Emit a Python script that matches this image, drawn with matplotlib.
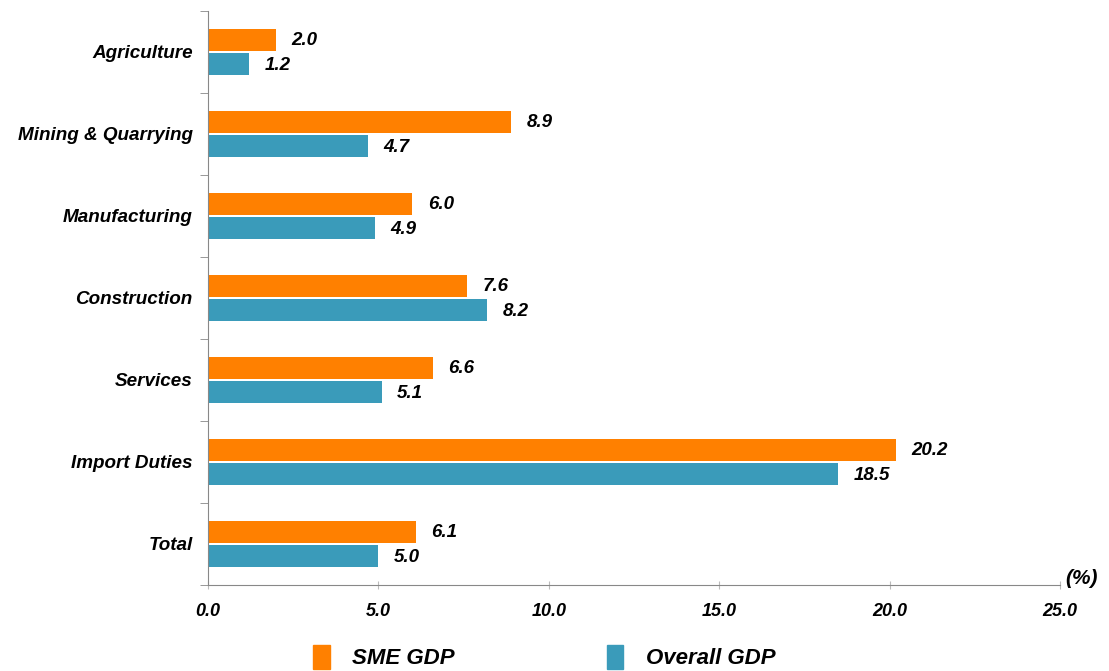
import numpy as np
import matplotlib.pyplot as plt
from matplotlib.patches import Patch
from matplotlib.ticker import FixedLocator

categories = ['Agriculture', 'Mining & Quarrying', 'Manufacturing', 'Construction',
              'Services', 'Import Duties', 'Total']
sme_gdp = [2.0, 8.9, 6.0, 7.6, 6.6, 20.2, 6.1]
overall_gdp = [1.2, 4.7, 4.9, 8.2, 5.1, 18.5, 5.0]
series_names = ['SME GDP', 'Overall GDP']
xticks = [0, 5, 10, 15, 20, 25]

orange = '#FF8000'
teal = '#3A9BBA'
narrow = ['Liberation Sans Narrow', 'Liberation Sans', 'DejaVu Sans']
plt.rcParams['font.family'] = ['Liberation Sans', 'DejaVu Sans']

fig = plt.figure(figsize=(11.09, 6.71), dpi=100)
ax = fig.add_axes([208 / 1109, 1 - 585 / 671, 852 / 1109, 574 / 671])

y = np.arange(len(categories))
h = 0.27
ax.barh(y - h / 2 - 0.012, sme_gdp, height=h, color=orange)
ax.barh(y + h / 2 + 0.012, overall_gdp, height=h, color=teal)

# value labels
for i in range(len(categories)):
    ax.text(sme_gdp[i] + 0.45, y[i] - h / 2, f'{sme_gdp[i]:.1f}', va='center', ha='left',
            fontsize=13.5, fontweight='bold', fontstyle='italic')
    ax.text(overall_gdp[i] + 0.45, y[i] + h / 2 + 0.03, f'{overall_gdp[i]:.1f}', va='center', ha='left',
            fontsize=13.5, fontweight='bold', fontstyle='italic')

ax.set_xlim(0, 25)
ax.set_ylim(len(categories) - 0.5, -0.5)
ax.set_xticks(xticks)
ax.set_xticklabels([f'{v:.1f}' for v in xticks], family=narrow,
                   fontsize=13, fontweight='bold', fontstyle='italic')
ax.tick_params(axis='x', direction='inout', length=6, color='#bbbbbb', pad=10)

ax.set_yticks(y)
ax.set_yticklabels(categories, fontsize=13.6, fontweight='bold', fontstyle='italic')
ax.yaxis.set_minor_locator(FixedLocator(np.arange(-0.5, len(categories), 1)))
ax.tick_params(axis='y', which='major', length=0, pad=11)
ax.tick_params(axis='y', which='minor', length=6, color='#888888')

for s in ['top', 'right']:
    ax.spines[s].set_visible(False)
ax.spines['left'].set_color('#888888')
ax.spines['bottom'].set_color('#888888')

fig.text(1082 / 1109, 1 - 578 / 671, '(%)', ha='center', va='center', family=narrow,
         fontsize=15, fontweight='bold', fontstyle='italic')

handles = [Patch(color=orange), Patch(color=teal)]
fig.legend(handles, series_names, loc='center', bbox_to_anchor=(544 / 1109, 1 - 657 / 671),
           ncol=2, frameon=False, handlelength=0.75, handleheight=1.3, handletextpad=1.0,
           columnspacing=6.85,
           prop={'family': narrow, 'size': 16, 'weight': 'bold', 'style': 'italic'})

fig.savefig('out.png', dpi=100)
